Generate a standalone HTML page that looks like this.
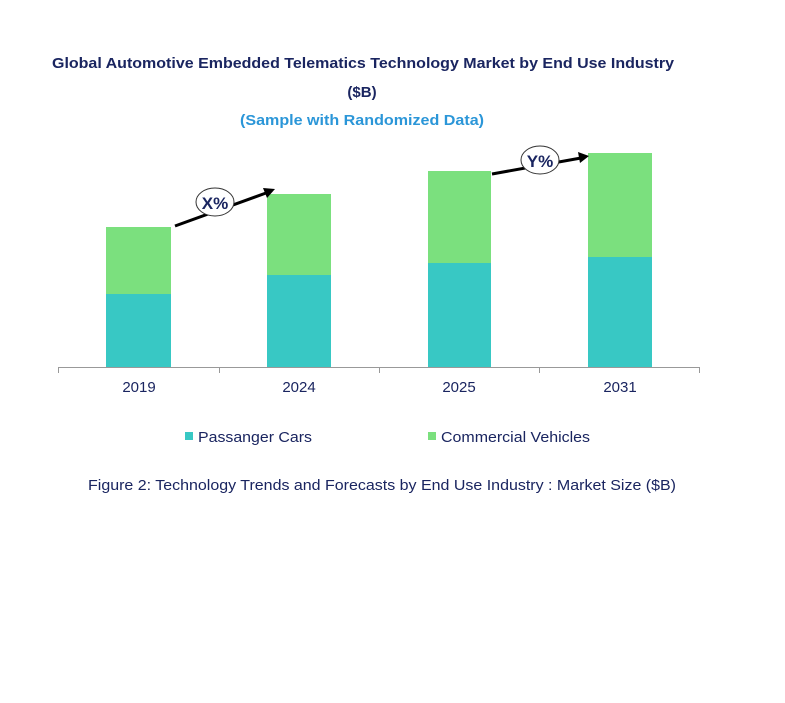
<!DOCTYPE html>
<html><head><meta charset="utf-8"><style>html,body{margin:0;padding:0;background:#fff}svg{display:block}</style></head>
<body>
<svg width="785" height="703" viewBox="0 0 785 703" xmlns="http://www.w3.org/2000/svg" font-family="Liberation Sans, Arial, sans-serif">
<text x="52" y="68" font-size="15" font-weight="bold" fill="#1a2560" textLength="622" lengthAdjust="spacingAndGlyphs">Global Automotive Embedded Telematics Technology Market by End Use Industry</text>
<text x="362" y="97" font-size="15" font-weight="bold" fill="#1a2560" text-anchor="middle">($B)</text>
<text x="240" y="125" font-size="15" font-weight="bold" fill="#2b96d8" textLength="244" lengthAdjust="spacingAndGlyphs">(Sample with Randomized Data)</text>
<g>
<rect x="106" y="294" width="65" height="73" fill="#38c8c4"/><rect x="106" y="227" width="65" height="67" fill="#7be07e"/>
<rect x="267" y="275" width="64" height="92" fill="#38c8c4"/><rect x="267" y="194" width="64" height="81" fill="#7be07e"/>
<rect x="428" y="263" width="63" height="104" fill="#38c8c4"/><rect x="428" y="171" width="63" height="92" fill="#7be07e"/>
<rect x="588" y="257" width="64" height="110" fill="#38c8c4"/><rect x="588" y="153" width="64" height="104" fill="#7be07e"/>
</g>
<g stroke="#999" stroke-width="1">
<line x1="58" y1="367.5" x2="699" y2="367.5"/>
<line x1="58.5" y1="367" x2="58.5" y2="373"/><line x1="219.5" y1="367" x2="219.5" y2="373"/><line x1="379.5" y1="367" x2="379.5" y2="373"/><line x1="539.5" y1="367" x2="539.5" y2="373"/><line x1="699.5" y1="367" x2="699.5" y2="373"/>
</g>
<g font-size="15" fill="#1a2560" text-anchor="middle">
<text x="139" y="392">2019</text><text x="299" y="392">2024</text><text x="459" y="392">2025</text><text x="620" y="392">2031</text>
</g>
<g stroke="#000" stroke-width="3" fill="none">
<line x1="175" y1="226" x2="266" y2="193"/>
<line x1="492" y1="174" x2="581" y2="158"/>
</g>
<polygon points="275,189 263,188 267,198" fill="#000"/>
<polygon points="589,156 578,152 580,163" fill="#000"/>
<ellipse cx="215" cy="202" rx="19" ry="14" fill="#fff" stroke="#333" stroke-width="1"/>
<text x="215" y="209" font-size="17" font-weight="bold" fill="#1a2560" text-anchor="middle">X%</text>
<ellipse cx="540" cy="160" rx="19" ry="14" fill="#fff" stroke="#333" stroke-width="1"/>
<text x="540" y="167" font-size="17" font-weight="bold" fill="#1a2560" text-anchor="middle">Y%</text>
<rect x="185" y="432" width="8" height="8" fill="#38c8c4"/>
<text x="198" y="442" font-size="15" fill="#1a2560" textLength="114" lengthAdjust="spacingAndGlyphs">Passanger Cars</text>
<rect x="428" y="432" width="8" height="8" fill="#7be07e"/>
<text x="441" y="442" font-size="15" fill="#1a2560" textLength="149" lengthAdjust="spacingAndGlyphs">Commercial Vehicles</text>
<text x="88" y="490" font-size="15" fill="#1a2560" textLength="588" lengthAdjust="spacingAndGlyphs">Figure 2: Technology  Trends  and Forecasts by  End Use Industry   : Market Size ($B)</text>
</svg>
</body></html>
